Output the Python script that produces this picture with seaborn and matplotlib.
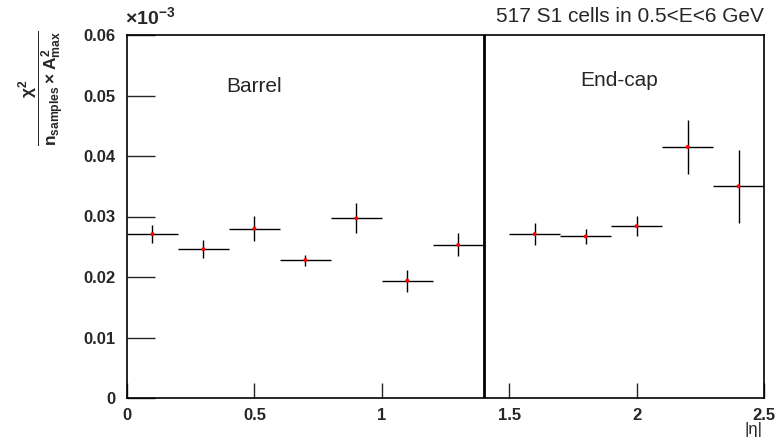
import matplotlib
matplotlib.use("Agg")
import matplotlib.pyplot as plt
import seaborn as sns
import numpy as np
import pandas as pd

# |eta| bin centres, half-widths and normalised chi2 (in units of 1e-3)
eta = [0.1, 0.3, 0.5, 0.7, 0.9, 1.1, 1.3, 1.6, 1.8, 2.0, 2.2, 2.4]
eta_halfwidth = [0.1] * 12
chi2 = [0.0271, 0.0246, 0.0280, 0.0228, 0.0297, 0.0194, 0.0253,
        0.0271, 0.0267, 0.0284, 0.0415, 0.0350]
chi2_err = [0.0015, 0.0015, 0.0021, 0.0009, 0.0025, 0.0018, 0.0019,
            0.0018, 0.0013, 0.0017, 0.0045, 0.0060]

barrel_edge = 1.4
x_ticks = [0, 0.5, 1, 1.5, 2, 2.5]
x_ticklabels = ["0", "0.5", "1", "1.5", "2", "2.5"]
y_ticks = [0, 0.01, 0.02, 0.03, 0.04, 0.05, 0.06]
y_ticklabels = ["0", "0.01", "0.02", "0.03", "0.04", "0.05", "0.06"]

df = pd.DataFrame({"eta": eta, "chi2": chi2})

sns.set_theme(style="ticks")
plt.rcParams["font.family"] = ["Liberation Sans", "DejaVu Sans"]
plt.rcParams["mathtext.fontset"] = "custom"
plt.rcParams["mathtext.rm"] = "Liberation Sans:bold"
plt.rcParams["mathtext.it"] = "Liberation Sans:bold"
plt.rcParams["mathtext.bf"] = "Liberation Sans:bold"

fig = plt.figure(figsize=(7.78, 4.41), dpi=100)
ax = fig.add_axes([127 / 778, 43 / 441, (764 - 127) / 778, (398 - 35) / 441])

ax.errorbar(eta, chi2, xerr=eta_halfwidth, yerr=chi2_err, fmt="none",
            ecolor="black", elinewidth=1.0, capsize=0, zorder=2)
sns.scatterplot(data=df, x="eta", y="chi2", color="red", s=8,
                edgecolor="none", ax=ax, zorder=3, legend=False)

ax.axvline(barrel_edge, color="black", lw=2.0, zorder=4)

ax.set_xlim(0, 2.5)
ax.set_ylim(0, 0.06)
ax.set_xticks(x_ticks)
ax.set_xticklabels(x_ticklabels, fontweight="bold", fontsize=12)
ax.set_yticks(y_ticks)
ax.set_yticklabels(y_ticklabels, fontweight="bold", fontsize=12)
ax.tick_params(axis="x", direction="in", length=11, width=1, pad=7)
ax.tick_params(axis="y", direction="in", length=20, width=1, pad=8)
for s in ax.spines.values():
    s.set_linewidth(1.2)
    s.set_color("black")

ax.set_xlabel("")
ax.set_ylabel("")

fig.text(125 / 778, 1 - 24 / 441, r"$\times$10$^{\mathregular{-3}}$", fontsize=14,
         fontweight="bold", ha="left", va="baseline")
fig.text(764 / 778, 1 - 22 / 441, "517 S1 cells in 0.5<E<6 GeV",
         fontsize=15, ha="right", va="baseline")
ax.text(0.5, 0.0515, "Barrel", fontsize=15, ha="center", va="center")
ax.text(1.93, 0.0525, "End-cap", fontsize=15, ha="center", va="center")
fig.text(762 / 778, 1 - 434 / 441, "|η|", fontsize=12,
         ha="right", va="baseline")

fig.text(41 / 778, 1 - 88 / 441,
         r"$\dfrac{\chi^{2}}{n_{samples}\times A^{2}_{max}}$",
         fontsize=12.5, rotation=90, ha="center", va="center")

fig.savefig("out.png", dpi=100)
